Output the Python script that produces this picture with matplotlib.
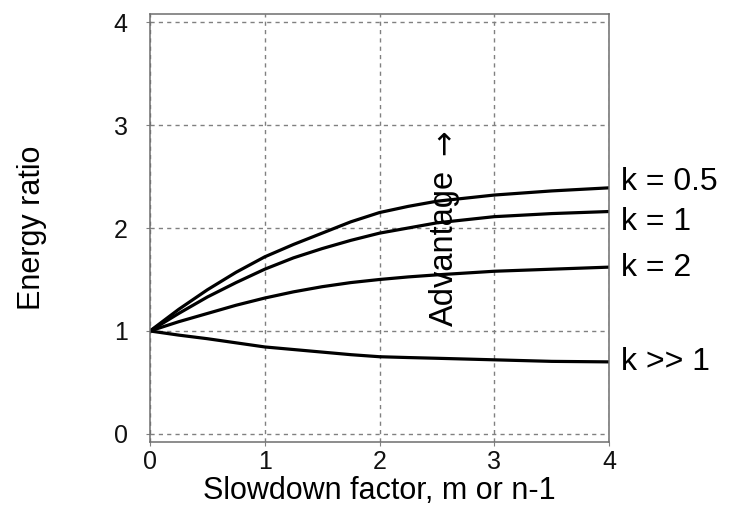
import numpy as np
import matplotlib
matplotlib.use('Agg')
import matplotlib.pyplot as plt

# ─── DATA ───────────────────────────────────────────────────────────────────
slowdown = [0, 0.25, 0.5, 0.75, 1.0, 1.25, 1.5, 1.75, 2.0, 2.25, 2.5, 3.0, 3.5, 4.0]

ratio_k05 = [1.00, 1.21, 1.40, 1.57, 1.72, 1.84, 1.95, 2.06, 2.15, 2.21, 2.26, 2.32, 2.36, 2.39]
ratio_k1 = [1.00, 1.17, 1.33, 1.47, 1.60, 1.71, 1.80, 1.88, 1.95, 2.00, 2.05, 2.11, 2.14, 2.16]
ratio_k2 = [1.00, 1.09, 1.17, 1.25, 1.32, 1.38, 1.43, 1.47, 1.50, 1.525, 1.545, 1.58, 1.60, 1.62]
ratio_kinf = [1.00, 0.96, 0.925, 0.885, 0.845, 0.82, 0.795, 0.77, 0.75, 0.742, 0.735, 0.72, 0.705, 0.70]

curve_labels = ['k = 0.5', 'k = 1', 'k = 2', 'k >> 1']
label_dy = [6, -10, -1, 0]   # pixel offsets of labels from curve ends

x_ticks = [0, 1, 2, 3, 4]
y_ticks = [0, 1, 2, 3, 4]

# ─── FIGURE ─────────────────────────────────────────────────────────────────
plt.rcParams['font.family'] = ['Liberation Sans', 'DejaVu Sans']

fig = plt.figure(figsize=(7.39, 5.08), dpi=100)
ax = fig.add_axes([150 / 739, 66 / 508, 459 / 739, 428 / 508])

series = [ratio_k05, ratio_k1, ratio_k2, ratio_kinf]
for ys, lab, dy in zip(series, curve_labels, label_dy):
    ax.plot(slowdown, ys, color='black', lw=2.3, solid_capstyle='round',
            solid_joinstyle='round')
    ax.annotate(lab, xy=(slowdown[-1], ys[-1]), xytext=(12, dy),
                textcoords='offset pixels', ha='left', va='center',
                fontsize=23, color='black', annotation_clip=False)

# "Advantage" with a longer arrow above it
ax.text(2.57, 1.81, 'Advantage', rotation=90, ha='center', va='center',
        fontsize=23.5, color='black')
ax.text(2.57, 2.83, '\u2192', rotation=90, ha='center', va='center',
        fontsize=22, color='black', family='DejaVu Sans')

ax.set_xlim(0, 4)
ax.set_ylim(-0.078, 4.078)
ax.set_xticks(x_ticks)
ax.set_yticks(y_ticks)
ax.tick_params(labelsize=18, length=3, color='#808080', labelcolor='#111111')
ax.tick_params(axis='x', pad=3)
ax.tick_params(axis='y', pad=13)

ax.grid(True, color='#808080', linestyle=(0, (3, 3)), lw=1)
for sp in ax.spines.values():
    sp.set_color('#6e6e6e')
    sp.set_linewidth(1.1)

ax.set_xlabel('Slowdown factor, m or n-1', fontsize=22, labelpad=1)
ax.set_ylabel('Energy ratio', fontsize=22, labelpad=48)

fig.savefig('out.png', dpi=100)
plt.close(fig)
